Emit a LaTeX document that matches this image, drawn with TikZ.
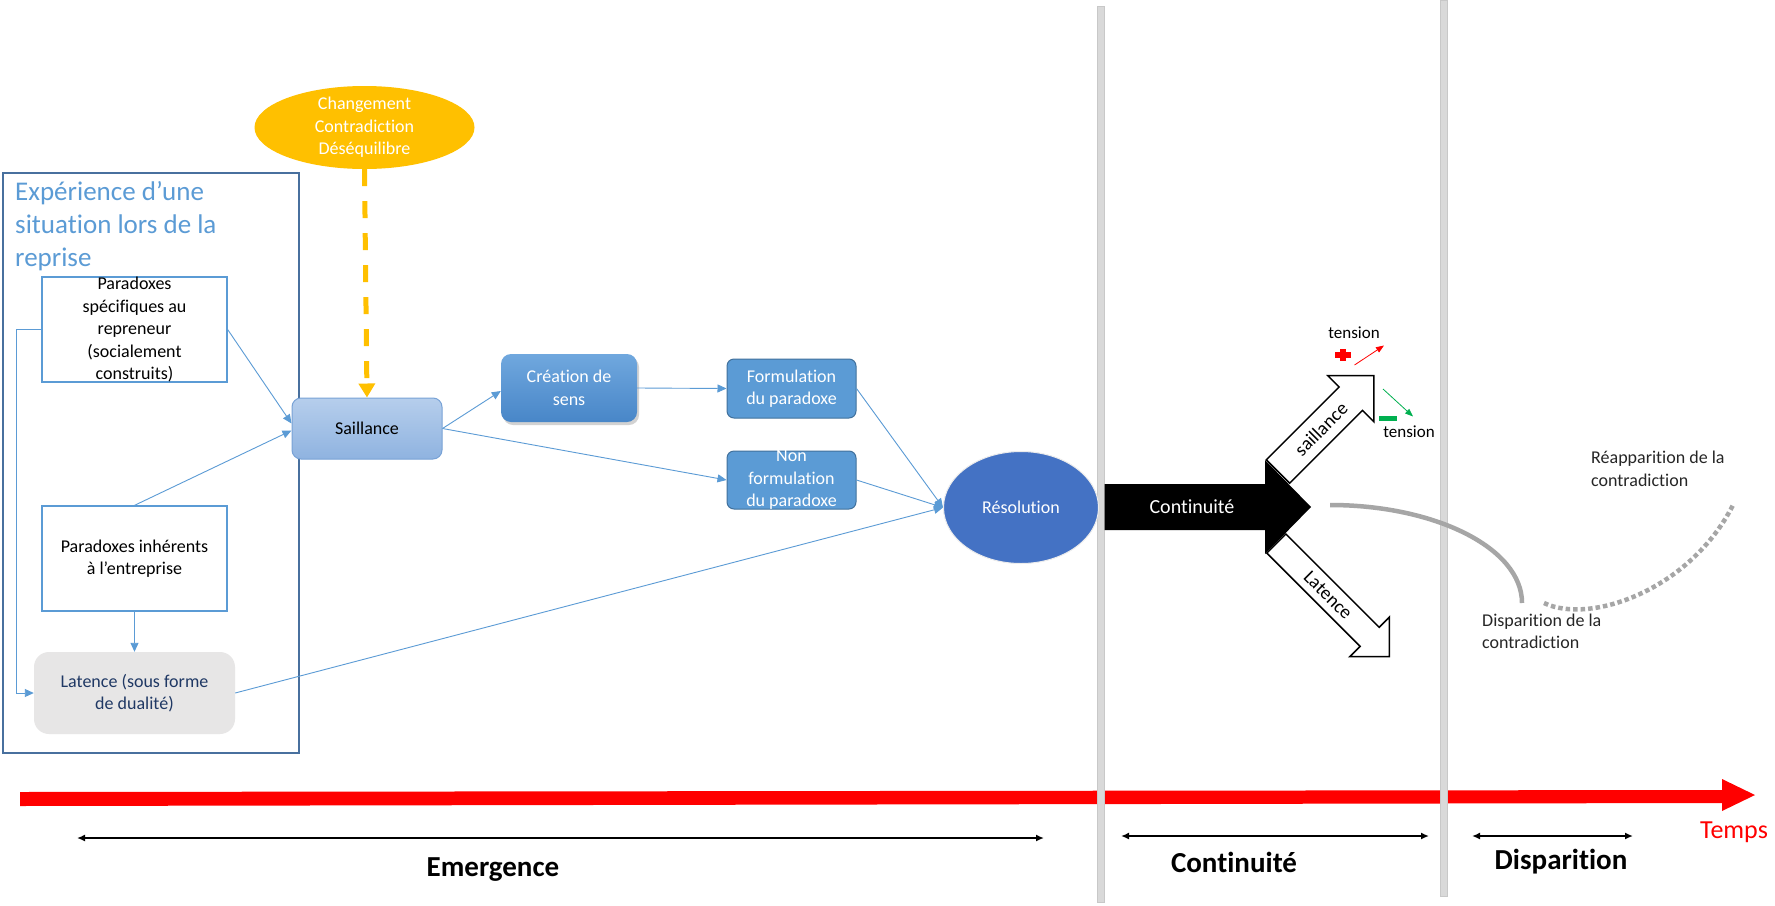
\documentclass[tikz,border=0pt]{standalone}
\usepackage{fontspec}
\setmainfont{Carlito}[Ligatures=NoCommon]
\usetikzlibrary{arrows.meta,shapes.geometric,shadows}
\definecolor{mblue}{RGB}{91,155,213}
\definecolor{outerc}{RGB}{72,112,158}
\definecolor{latfill}{RGB}{231,230,230}
\definecolor{navy}{RGB}{31,56,100}
\definecolor{ylw}{RGB}{255,192,0}
\definecolor{sailtop}{RGB}{182,206,236}
\definecolor{sailbot}{RGB}{143,179,224}
\definecolor{sailbd}{RGB}{120,162,214}
\definecolor{creatop}{RGB}{112,168,222}
\definecolor{creabot}{RGB}{72,134,200}
\definecolor{formbd}{RGB}{65,113,156}
\definecolor{resofill}{RGB}{68,114,196}
\definecolor{barc}{RGB}{217,217,217}
\definecolor{barbd}{RGB}{200,200,200}
\definecolor{curvec}{RGB}{166,166,166}
\definecolor{dgray}{RGB}{38,38,38}
\definecolor{grn}{RGB}{0,176,80}
\newcommand\mysize[2]{\fontsize{#1}{#2}\selectfont}
\begin{document}
\begin{tikzpicture}[x=1pt,y=-1pt,
  conn/.style={draw=mblue, line width=0.9pt, -{Triangle[length=9pt,width=8pt]}},
  pbox/.style={draw=mblue, line width=1.3pt, minimum width=185pt, minimum height=105pt, inner sep=0pt},
  txt/.style={font=\mysize{18}{22.5}, align=center, inner sep=0pt},
  rtxt/.style={font=\mysize{18}{22.5}, align=left, inner sep=0pt, text=dgray, anchor=west},
  bold/.style={font=\mysize{29}{34}\bfseries, inner sep=0pt},
  dbl/.style={draw=black, line width=2pt, {Latex[length=8pt,width=7pt]}-{Latex[length=8pt,width=7pt]}},
  whitearrow/.style={draw=black, fill=white, line width=1.5pt, line join=miter},
  gcurve/.style={draw=curvec, line width=4.5pt},
  bar/.style={fill=barc, draw=barbd, line width=0.5pt}
]
\useasboundingbox (0,0) rectangle (1775,905);
\fill[white] (0,0) rectangle (1775,905);

% time arrow
\fill[red] (20,792) -- (1722,790) -- (1722,779) -- (1755,795) -- (1722,811) -- (1722,803) -- (20,806) -- cycle;
\node[text=red, font=\mysize{26}{30}, inner sep=0pt] (temps) at (1734,832) {Temps};

% vertical bars
\fill[bar] (1097,6) rectangle (1104,902);
\fill[bar] (1440,0) rectangle (1447,896);

% left frame
\node[draw=outerc, line width=1.6pt, minimum width=296pt, minimum height=580pt, inner sep=0pt] (exp) at (151,463) {};
\node[text=mblue, font=\mysize{27}{33}, align=left, inner sep=0pt, anchor=west] (expt) at (15,226) {Expérience d’une\\situation lors de la\\reprise};

\node[pbox] (spec) at (134.5,329.5) {};
\node[txt] (spect) at (spec.center) {Paradoxes\\spécifiques au\\repreneur\\(socialement\\construits)};
\node[pbox] (inh) at (134.5,558.5) {};
\node[txt] (inht) at (inh.center) {Paradoxes inhérents\\à l’entreprise};
\node[fill=latfill, rounded corners=15pt, minimum width=201pt, minimum height=82pt, inner sep=0pt] (lat) at (134.5,693) {};
\node[txt, text=navy] (latt) at (lat.center) {Latence (sous forme\\de dualité)};

% yellow ellipse
\node[ellipse, fill=ylw, minimum width=220pt, minimum height=83pt, inner sep=0pt] (chg) at (364.5,127.5) {};
\node[txt, text=white] (chgt) at (chg.center) {Changement\\Contradiction\\Déséquilibre};

% process boxes
\node[draw=sailbd, line width=1pt, top color=sailtop, bottom color=sailbot, rounded corners=9pt, minimum width=150pt, minimum height=61pt, inner sep=0pt] (sail) at (367,428.5) {};
\node[txt] (sailt) at (sail.center) {Saillance};
\node[top color=creatop, bottom color=creabot, rounded corners=10pt, minimum width=136pt, minimum height=68pt, inner sep=0pt, drop shadow={opacity=0.35, shadow xshift=2pt, shadow yshift=-3pt}] (crea) at (569,388) {};
\node[txt, text=white] (creat) at (crea.center) {Création de\\sens};
\node[draw=formbd, fill=mblue, line width=1pt, rounded corners=7pt, minimum width=129pt, minimum height=59pt, inner sep=0pt] (form) at (791.5,388.5) {};
\node[txt, text=white] (formt) at (form.center) {Formulation\\du paradoxe};
\node[draw=formbd, fill=mblue, line width=1pt, rounded corners=7pt, minimum width=129pt, minimum height=58pt, inner sep=0pt] (nonf) at (791.5,480) {};
\node[txt, text=white] (nonft) at (nonf.center) {Non\\formulation\\du paradoxe};
\node[ellipse, fill=resofill, draw=white!85!gray, line width=1pt, minimum width=155pt, minimum height=112pt, inner sep=0pt] (reso) at (1021,507.5) {};
\node[txt, text=white] (resot) at (reso.center) {Résolution};

% connectors
\draw[conn] (spec.west) -- ++(-25,0) |- (lat.west);
\draw[conn] (spec.east) -- ([yshift=5pt]sail.west);
\draw[conn] (inh.north) -- ([yshift=-2pt]sail.west);
\draw[conn] (inh.south) -- (lat.north);
\draw[conn] (sail.east) -- ([yshift=-3pt]crea.west);
\draw[conn] (sail.east) -- (nonf.west);
\draw[conn] (crea.east) -- (form.west);
\draw[conn] (form.east) -- (reso.west);
\draw[conn] (nonf.east) -- (reso.west);
\draw[conn] (lat.east) -- (reso.west);
\draw[draw=ylw, line width=5pt, dash pattern=on 17pt off 15pt, -{Triangle[length=14pt,width=16pt]}] (chg.south) -- (sail.north);

% continuity arrow
\fill[black] (1104.5,484) -- (1265,484) -- (1265,460) -- (1311,507) -- (1265,554) -- (1265,530) -- (1104.5,530) -- cycle;
\node[text=white, font=\mysize{20}{24}, inner sep=0pt] (contt) at (1192,507) {Continuité};

\draw[whitearrow] (1266.3,459.8) -- (1339.1,387) -- (1327.8,375.7) -- (1373.8,375.7) -- (1373.8,421.7) -- (1362.5,410.4) -- (1289.7,483.2) -- cycle;
\node[rotate=45, font=\mysize{19}{22}, inner sep=0pt] (sailarr) at (1321,429) {saillance};
\draw[whitearrow] (1285.9,534) -- (1379.2,627.3) -- (1389.4,617) -- (1389.4,656.6) -- (1349.8,656.6) -- (1360.1,646.4) -- (1266.8,553.1) -- cycle;
\node[rotate=-45, font=\mysize{19}{22}, inner sep=0pt] (latarr) at (1328,595) {Latence};

% tension
\node[font=\mysize{17}{20}, inner sep=0pt] (tens1) at (1354,333) {tension};
\fill[red] (1335,352) rectangle (1351,357.5);
\fill[red] (1340.3,349) rectangle (1345.7,360.5);
\coordinate (ra) at (1354.5,365);
\coordinate (rb) at (1384,345.5);
\draw[red, line width=0.8pt, -{Triangle[length=8pt,width=6pt]}] (ra) -- (rb);
\coordinate (ga) at (1383,389);
\coordinate (gb) at (1413,416.5);
\draw[grn, line width=0.8pt, -{Triangle[length=8pt,width=6pt]}] (ga) -- (gb);
\fill[grn] (1379,416) rectangle (1397,421);
\node[font=\mysize{17}{20}, inner sep=0pt] (tens2) at (1409,432) {tension};

% curves
\draw[gcurve] (1330,505) .. controls (1435,505) and (1522,548) .. (1522,603);
\draw[gcurve, dash pattern=on 4.5pt off 3pt] (1544,603) .. controls (1590,625) and (1690,590) .. (1733,505);
\node[rtxt] (disp) at (1482,631.5) {Disparition de la\\contradiction};
\node[rtxt] (reap) at (1591,469) {Réapparition de la\\contradiction};

% phases
\coordinate (ema) at (77,838);
\coordinate (emb) at (1044,838);
\coordinate (coa) at (1121,836);
\coordinate (cob) at (1429,836);
\coordinate (dia) at (1472,836);
\coordinate (dib) at (1633,836);
\draw[dbl] (ema) -- (emb);
\draw[dbl] (coa) -- (cob);
\draw[dbl] (dia) -- (dib);
\node[bold] (emer) at (493,870) {Emergence};
\node[bold] (cont) at (1234,862) {Continuité};
\node[bold] (disa) at (1561,862) {Disparition};
\end{tikzpicture}
\end{document}
